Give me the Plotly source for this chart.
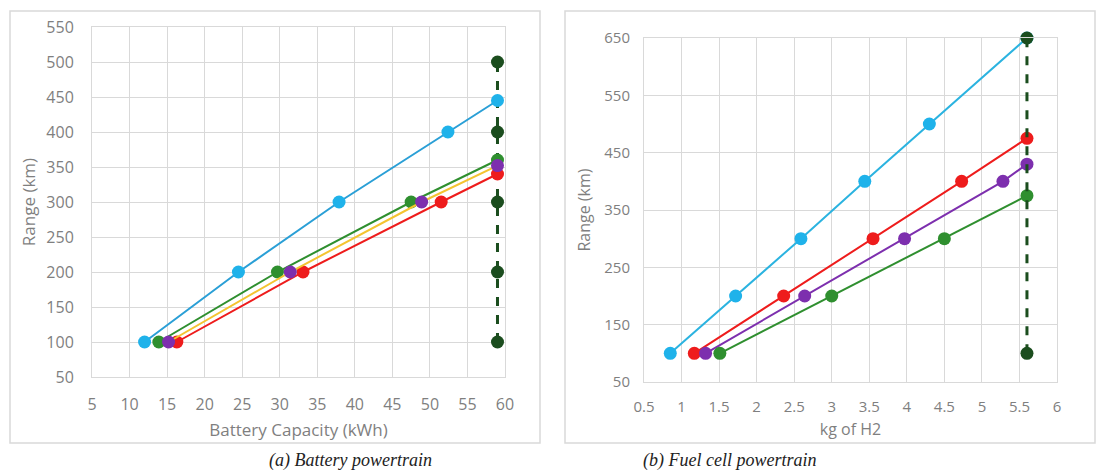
import plotly.graph_objects as go

# ---- data: (a) Battery powertrain ----
bat_blue_x = [12.0, 24.5, 37.9, 52.4, 59.0]
bat_blue_y = [100, 200, 300, 400, 445]
bat_green_x = [13.9, 29.7, 47.5, 59.0]
bat_green_y = [100, 200, 300, 360]
bat_purple_x = [15.2, 31.4, 48.9, 59.0]
bat_purple_y = [100, 200, 300, 352]
bat_red_x = [16.3, 33.1, 51.5, 59.0]
bat_red_y = [100, 200, 300, 340]
bat_max_x = [59.0, 59.0, 59.0, 59.0, 59.0]
bat_max_y = [100, 200, 300, 400, 500]

# ---- data: (b) Fuel cell powertrain ----
fc_blue_x = [0.85, 1.72, 2.59, 3.44, 4.30, 5.60]
fc_blue_y = [100, 200, 300, 400, 500, 650]
fc_red_x = [1.17, 2.36, 3.55, 4.73, 5.60]
fc_red_y = [100, 200, 300, 400, 475]
fc_purple_x = [1.32, 2.64, 3.97, 5.28, 5.60]
fc_purple_y = [100, 200, 300, 400, 430]
fc_green_x = [1.51, 3.00, 4.50, 5.60]
fc_green_y = [100, 200, 300, 375]
fc_max_x = [5.60, 5.60]
fc_max_y = [100, 650]

W, H = 1098, 475
BLUE_M, BLUE_L = "#1fb2ea", "#2a9fd6"
GREEN = "#2f8f2f"
YELLOW = "#f4c430"
PURPLE = "#7d2fae"
RED = "#ee1c1c"
DKGREEN = "#1b4d1e"
MS = 13

fig = go.Figure()

def add(x, y, lc, mc, xa, ya, dash="solid", lw=2):
    fig.add_trace(go.Scatter(x=x, y=y, mode="lines+markers", xaxis=xa, yaxis=ya,
                             line=dict(color=lc, width=lw, dash=dash), cliponaxis=False,
                             marker=dict(color=mc, size=MS), showlegend=False))

# left
add(bat_max_x, bat_max_y, DKGREEN, DKGREEN, "x", "y", dash="dash", lw=3)
add(bat_blue_x, bat_blue_y, BLUE_L, BLUE_M, "x", "y")
add(bat_green_x, bat_green_y, GREEN, GREEN, "x", "y")
add(bat_red_x, bat_red_y, RED, RED, "x", "y")
add(bat_purple_x, bat_purple_y, YELLOW, PURPLE, "x", "y")

# right
add(fc_blue_x, fc_blue_y, "#2bb3e0", BLUE_M, "x2", "y2")
add(fc_red_x, fc_red_y, RED, RED, "x2", "y2")
add(fc_purple_x, fc_purple_y, PURPLE, PURPLE, "x2", "y2")
add(fc_green_x, fc_green_y, GREEN, GREEN, "x2", "y2")
add(fc_max_x, fc_max_y, DKGREEN, DKGREEN, "x2", "y2", dash="dash", lw=3)

GRAY = "#7f7f7f"
FONT = "Open Sans"

def axis(size, standoff, title, tsize, tstand):
    return dict(showgrid=True, gridcolor="#d9d9d9", gridwidth=1, zeroline=False,
                showline=True, linecolor="#d9d9d9", mirror=True,
                tickfont=dict(family=FONT, size=size, color=GRAY),
                ticklabelstandoff=standoff, ticks="", fixedrange=True, automargin=False,
                title=dict(text=title, font=dict(family=FONT, size=tsize, color=GRAY),
                           standoff=tstand))

fig.update_layout(
    width=W, height=H, margin=dict(l=0, r=0, t=0, b=0),
    paper_bgcolor="white", plot_bgcolor="white", showlegend=False,
    xaxis=dict(domain=[92 / W, 505 / W], range=[5, 60], tick0=5, dtick=5,
               **axis(16, 13, "Battery Capacity (kWh)", 17, 9)),
    yaxis=dict(domain=[(H - 377) / H, (H - 27) / H], range=[50, 550], tick0=50, dtick=50,
               **axis(16, 14, "Range (km)", 17, 6)),
    xaxis2=dict(domain=[644 / W, 1057 / W], range=[0.5, 6], tick0=0.5, dtick=0.5,
                anchor="y2", **axis(15, 11, "kg of H2", 16, 8)),
    yaxis2=dict(domain=[(H - 382) / H, (H - 38) / H], range=[50, 650], tick0=50, dtick=100,
                anchor="x2", **axis(15, 10, "Range (km)", 16, 9)),
)

# panel frames
for x0, x1 in [(10, 540), (565, 1095)]:
    fig.add_shape(type="rect", xref="paper", yref="paper",
                  x0=x0 / W, x1=x1 / W, y0=(H - 443) / H, y1=(H - 11) / H,
                  line=dict(color="#d9d9d9", width=1.5), fillcolor="rgba(0,0,0,0)", layer="below")

# captions
for txt, cx in [("(a) Battery powertrain", 267), ("(b) Fuel cell powertrain", 818)]:
    fig.add_annotation(text="<i>" + txt + "</i>", xref="paper", yref="paper",
                       x=cx / W, y=(H - 460) / H, yanchor="middle", showarrow=False,
                       font=dict(family="Liberation Serif", size=18, color="#222222"))

fig.write_html("out.html")
